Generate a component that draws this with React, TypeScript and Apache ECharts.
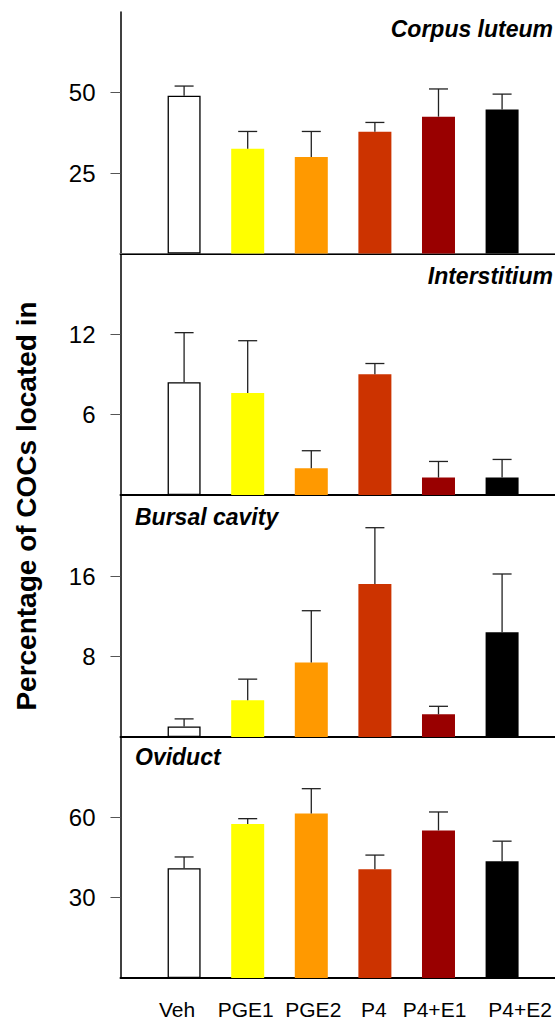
import React, { useEffect, useRef } from "react";
import * as echarts from "echarts";

const categories = ["Veh", "PGE1", "PGE2", "P4", "P4+E1", "P4+E2"];
const barColors = ["#ffffff", "#ffff00", "#ff9900", "#cc3300", "#990000", "#000000"];
const panelTitles = ["Corpus luteum", "Interstitium", "Bursal cavity", "Oviduct"];

const corpusMean = [49.0, 32.5, 30.0, 37.8, 42.5, 44.7];
const corpusSe = [3.0, 5.4, 7.9, 2.9, 8.6, 4.8];
const interMean = [8.4, 7.6, 2.0, 9.0, 1.3, 1.3];
const interSe = [3.7, 3.9, 1.3, 0.8, 1.2, 1.35];
const bursalMean = [1.05, 3.65, 7.4, 15.2, 2.25, 10.4];
const bursalSe = [0.75, 2.1, 5.15, 5.6, 0.8, 5.8];
const oviductMean = [41.0, 57.5, 61.4, 40.6, 55.1, 43.6];
const oviductSe = [4.2, 2.0, 9.3, 5.3, 6.9, 7.5];

const yMax = [75, 18, 24, 90];
const yTickValues = [
  [25, 50],
  [6, 12],
  [8, 16],
  [30, 60],
];
const yAxisTitle = "Percentage of COCs located in";

// layout (not data)
const gridTops = [12, 253.5, 495.5, 737];
const gridHeight = 241.5;
const xMax = 6.832; // visible part of the (cropped) x range
const labelShift = [-7, -2, 2, -1, -4, 18];

const FONT = "'Liberation Sans', Arial, Helvetica, sans-serif";

export default function App() {
  const ref = useRef<HTMLDivElement>(null);

  useEffect(() => {
    if (!ref.current) return;
    const chart = echarts.init(ref.current, null, { renderer: "svg" });
    const means = [corpusMean, interMean, bursalMean, oviductMean];
    const ses = [corpusSe, interSe, bursalSe, oviductSe];

    const grid = gridTops.map((t) => ({
      left: 120.5,
      right: 0,
      top: t,
      height: gridHeight,
      containLabel: false,
    }));

    const rich: any = {};
    categories.forEach((c, i) => {
      const d = labelShift[i];
      rich["l" + i] = {
        fontSize: 21,
        fontFamily: FONT,
        color: "#000",
        padding: d >= 0 ? [0, 0, 0, 2 * d] : [0, -2 * d, 0, 0],
      };
    });

    const xAxis: any[] = gridTops.map((_, g) => ({
      gridIndex: g,
      type: "value",
      min: 0,
      max: xMax,
      interval: 1,
      axisLine: { show: true, onZero: false, lineStyle: { color: "#000", width: 2 } },
      axisTick: { show: false },
      splitLine: { show: false },
      axisLabel: {
        show: g === 3,
        margin: 21,
        showMaxLabel: false,
        formatter: (v: number) => {
          const i = Math.round(v) - 1;
          if (i < 0 || i >= categories.length || Math.abs(v - i - 1) > 0.01) return "";
          return "{l" + i + "|" + categories[i] + "}";
        },
        rich,
      },
    }));
    xAxis.push({
      gridIndex: 0,
      type: "value",
      position: "top",
      min: 0,
      max: xMax,
      axisLine: { show: true, lineStyle: { color: "#666", width: 1 } },
      axisTick: { show: false },
      axisLabel: { show: false },
      splitLine: { show: false },
    });

    const yAxis = gridTops.map((_, g) => ({
      gridIndex: g,
      type: "value",
      min: 0,
      max: yMax[g],
      axisLine: { show: true, onZero: false, lineStyle: { color: "#000", width: 1.5 } },
      axisTick: {
        show: true,
        length: 10,
        customValues: yTickValues[g],
        lineStyle: { color: "#555", width: 1 },
      },
      axisLabel: {
        show: true,
        customValues: yTickValues[g],
        fontSize: 24,
        fontFamily: FONT,
        color: "#000",
        margin: 25,
      },
      splitLine: { show: false },
    }));

    const series: any[] = [];
    gridTops.forEach((_, g) => {
      series.push({
        type: "bar",
        xAxisIndex: g,
        yAxisIndex: g,
        barWidth: 33,
        z: 2,
        data: categories.map((_, i) => ({
          value: [i + 1, means[g][i]],
          itemStyle: {
            color: barColors[i],
            borderColor: i === 0 ? "#000" : barColors[i],
            borderWidth: i === 0 ? 1.3 : 0,
          },
        })),
      });
      series.push({
        type: "custom",
        xAxisIndex: g,
        yAxisIndex: g,
        z: 3,
        encode: { x: 0, y: 1 },
        data: categories.map((_, i) => [i + 1, means[g][i], ses[g][i]]),
        renderItem: (params: any, api: any) => {
          const x = api.value(0);
          const m = api.value(1);
          const s = api.value(2);
          const base = api.coord([x, m]);
          const top = api.coord([x, m + s]);
          const st = { stroke: "#222", lineWidth: 1.3 };
          return {
            type: "group",
            children: [
              { type: "line", shape: { x1: base[0], y1: base[1], x2: top[0], y2: top[1] }, style: st },
              { type: "line", shape: { x1: top[0] - 9.5, y1: top[1], x2: top[0] + 9.5, y2: top[1] }, style: st },
            ],
          };
        },
      });
    });

    const titleStyle = {
      fontSize: 23,
      fontWeight: "bold",
      fontStyle: "italic",
      fontFamily: FONT,
      fill: "#000",
      verticalAlign: "middle",
    };

    const graphic: any[] = [
      { type: "text", x: 553, y: 29, style: { ...titleStyle, text: panelTitles[0], align: "right" } },
      { type: "text", x: 553, y: 275.5, style: { ...titleStyle, text: panelTitles[1], align: "right" } },
      { type: "text", x: 135, y: 517, style: { ...titleStyle, text: panelTitles[2], align: "left" } },
      { type: "text", x: 135, y: 757, style: { ...titleStyle, text: panelTitles[3], align: "left" } },
      {
        type: "text",
        x: 26,
        y: 506,
        rotation: Math.PI / 2,
        style: {
          text: yAxisTitle,
          fontSize: 28,
          fontWeight: "bold",
          fontFamily: FONT,
          fill: "#000",
          align: "center",
          verticalAlign: "middle",
        },
      },
    ];

    chart.setOption({
      animation: false,
      backgroundColor: "#ffffff",
      grid,
      xAxis,
      yAxis,
      series,
      graphic,
    });

    return () => chart.dispose();
  }, []);

  return (
    <div
      ref={ref}
      style={{ position: "fixed", left: 0, top: 0, width: 555, height: 1020, background: "#fff" }}
    />
  );
}
